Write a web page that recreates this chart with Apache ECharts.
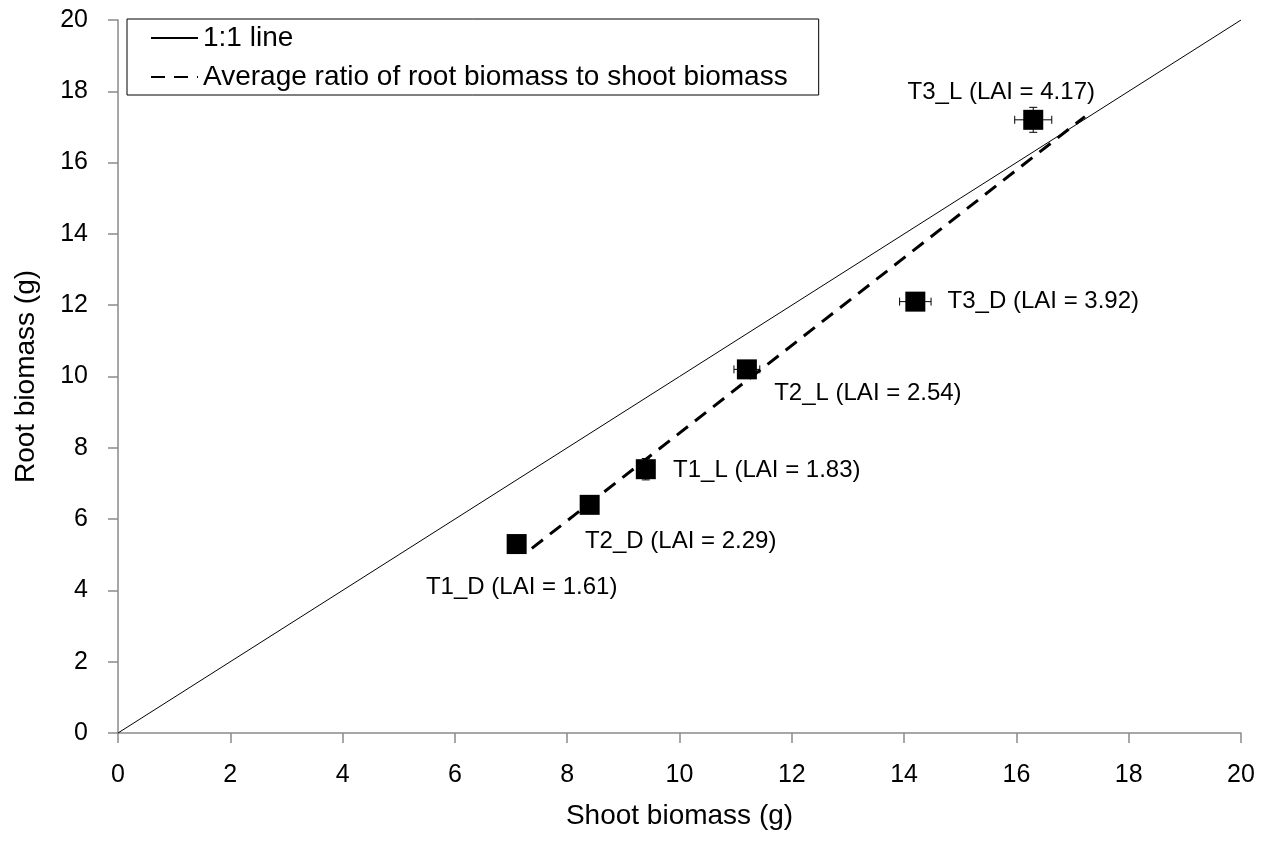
<!DOCTYPE html>
<html>
<head>
<meta charset="utf-8">
<script src="https://cdn.jsdelivr.net/npm/echarts@6/dist/echarts.min.js"></script>
<style>
html,body{margin:0;padding:0;background:#fff;}
#chart{width:1271px;height:841px;}
</style>
</head>
<body>
<div id="chart"></div>
<script>
// ---- data ----
const treatments = ['T1_D', 'T2_D', 'T1_L', 'T2_L', 'T3_D', 'T3_L'];
const laiValues = ['1.61', '2.29', '1.83', '2.54', '3.92', '4.17'];
const shootBiomass = [7.1, 8.4, 9.4, 11.2, 14.2, 16.3];
const rootBiomass = [5.3, 6.4, 7.4, 10.2, 12.1, 17.2];
const shootError = [0, 0, 0, 0.23, 0.28, 0.33];
const rootError = [0, 0, 0.3, 0, 0, 0.35];
const oneToOneLine = [[0, 0], [20, 20]];
const averageRatioLine = [[7.37, 5.18], [17.22, 17.29]];
const axisTicks = [0, 2, 4, 6, 8, 10, 12, 14, 16, 18, 20];

// ---- layout (label offsets relative to marker centre, px) ----
const labelOffsets = [[5, 43], [91, 37], [121, 1], [121, 24], [128, 0], [-32, -27]];

const FONT = '"Liberation Sans", Arial, sans-serif';
const axisGrey = '#8a8a8a';

const scatterData = shootBiomass.map((x, i) => ({
  value: [x, rootBiomass[i]],
  label: {
    show: true,
    formatter: treatments[i] + ' (LAI = ' + laiValues[i] + ')',
    position: 'inside',
    align: 'center',
    verticalAlign: 'middle',
    offset: labelOffsets[i],
    color: '#000',
    fontSize: 24,
    fontFamily: FONT
  }
}));

const errorData = shootBiomass.map((x, i) => [x, rootBiomass[i], shootError[i], rootError[i]]);

function renderError(params, api) {
  const x = api.value(0), y = api.value(1), xe = api.value(2), ye = api.value(3);
  const children = [];
  const cap = 4;
  const style = { stroke: '#000', lineWidth: 1 };
  if (xe > 0) {
    const a = api.coord([x - xe, y]), b = api.coord([x + xe, y]);
    children.push({ type: 'line', shape: { x1: a[0], y1: a[1], x2: b[0], y2: b[1] }, style });
    children.push({ type: 'line', shape: { x1: a[0], y1: a[1] - cap, x2: a[0], y2: a[1] + cap }, style });
    children.push({ type: 'line', shape: { x1: b[0], y1: b[1] - cap, x2: b[0], y2: b[1] + cap }, style });
  }
  if (ye > 0) {
    const a = api.coord([x, y - ye]), b = api.coord([x, y + ye]);
    children.push({ type: 'line', shape: { x1: a[0], y1: a[1], x2: b[0], y2: b[1] }, style });
    children.push({ type: 'line', shape: { x1: a[0] - cap, y1: a[1], x2: a[0] + cap, y2: a[1] }, style });
    children.push({ type: 'line', shape: { x1: b[0] - cap, y1: b[1], x2: b[0] + cap, y2: b[1] }, style });
  }
  return { type: 'group', children };
}

const axisCommon = {
  type: 'value',
  min: axisTicks[0],
  max: axisTicks[axisTicks.length - 1],
  interval: axisTicks[1] - axisTicks[0],
  splitLine: { show: false },
  axisLine: { show: true, onZero: false, lineStyle: { color: axisGrey, width: 1.5 } },
  axisTick: { show: true, inside: false, length: 10, lineStyle: { color: axisGrey, width: 1.5 } },
  nameLocation: 'middle',
  nameTextStyle: { color: '#000', fontSize: 28, fontFamily: FONT },
  axisLabel: { color: '#000', fontSize: 25, fontFamily: FONT, margin: 30 }
};

const chart = echarts.init(document.getElementById('chart'), null, { renderer: 'canvas' });
chart.setOption({
  backgroundColor: '#fff',
  animation: false,
  textStyle: { fontFamily: FONT },
  grid: { left: 118, right: 30, top: 20, bottom: 108, containLabel: false },
  xAxis: Object.assign({}, axisCommon, { name: 'Shoot biomass (g)', nameGap: 69 }),
  yAxis: Object.assign({}, axisCommon, { name: 'Root biomass (g)', nameGap: 78 }),
  legend: {
    data: ['1:1 line', 'Average ratio of root biomass to shoot biomass'],
    orient: 'vertical',
    left: 127,
    top: 19,
    padding: [5, 31, 4, 23],
    itemGap: 11,
    itemWidth: 47,
    itemHeight: 24,
    borderColor: '#000',
    borderWidth: 1,
    backgroundColor: '#fff',
    itemStyle: { opacity: 0 },
    textStyle: { color: '#000', fontSize: 28, fontFamily: FONT }
  },
  series: [
    {
      name: '1:1 line',
      type: 'line',
      data: oneToOneLine,
      symbol: 'none',
      itemStyle: { color: '#000' },
      lineStyle: { color: '#000', width: 1 },
      silent: true,
      z: 1
    },
    {
      name: 'Average ratio of root biomass to shoot biomass',
      type: 'line',
      data: averageRatioLine,
      symbol: 'none',
      itemStyle: { color: '#000' },
      lineStyle: { color: '#000', width: 3, type: [14, 9] },
      silent: true,
      z: 2
    },
    {
      name: 'errors',
      type: 'custom',
      data: errorData,
      renderItem: renderError,
      z: 3,
      silent: true
    },
    {
      name: 'points',
      type: 'scatter',
      data: scatterData,
      symbol: 'rect',
      symbolSize: 20,
      itemStyle: { color: '#000', opacity: 1 },
      z: 4
    }
  ]
});
</script>
</body>
</html>
